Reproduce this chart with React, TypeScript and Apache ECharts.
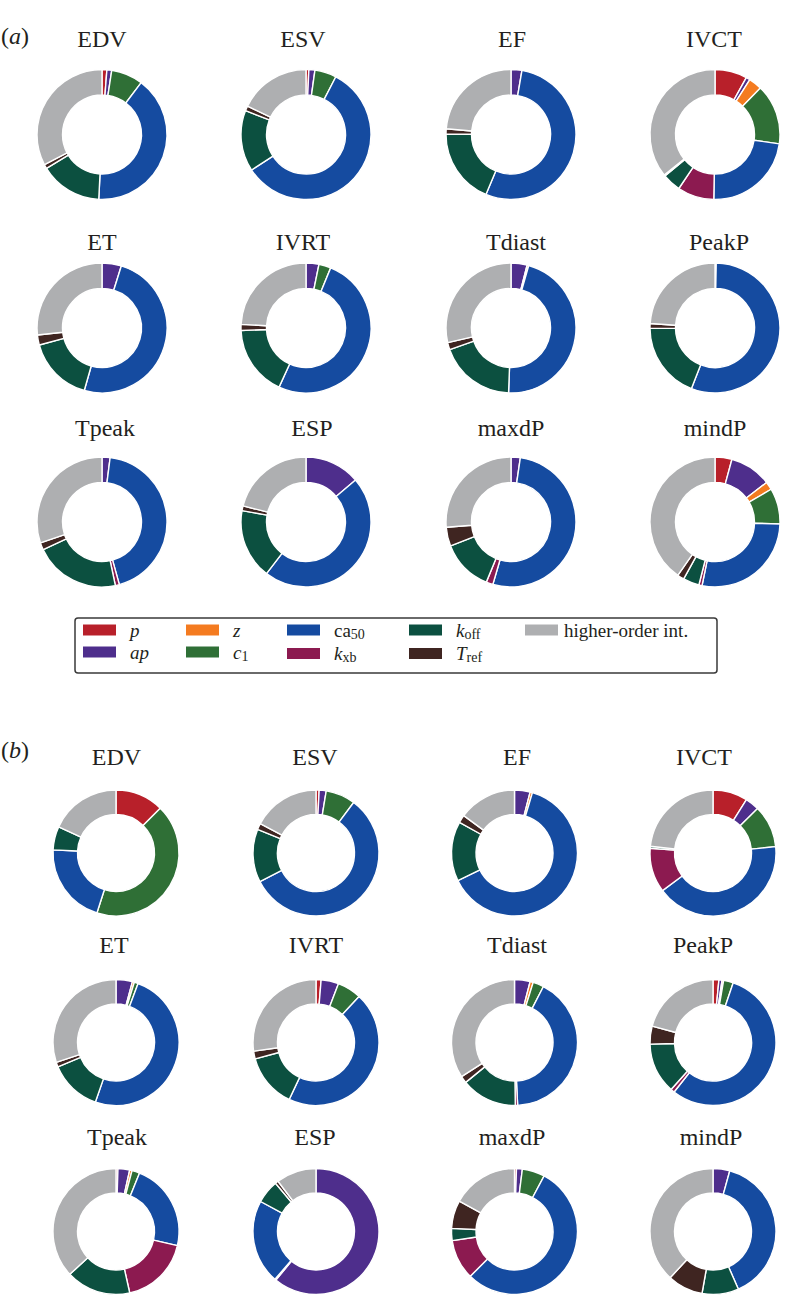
import React, { useEffect, useRef } from 'react';
import * as echarts from 'echarts';

// ---------- data ----------
const PARAMS = ['p', 'ap', 'z', 'c1', 'ca50', 'kxb', 'koff', 'Tref', 'higher-order int.'];
const PARAM_COLORS = ['#B8202A', '#4E2E8C', '#F47B20', '#2F6F36', '#154BA0', '#8C1A50', '#0C5040', '#3F2521', '#AEAFB1'];
const OUTPUTS = ['EDV', 'ESV', 'EF', 'IVCT', 'ET', 'IVRT', 'Tdiast', 'PeakP', 'Tpeak', 'ESP', 'maxdP', 'mindP'];

// values in % ordered as PARAMS: p, ap, z, c1, ca50, kxb, koff, Tref, higher-order
const A_EDV = [1.2, 1.2, 0, 7.9, 40.5, 0, 15.5, 1.0, 32.7];
const A_ESV = [0.7, 1.5, 0, 5.4, 58.2, 0, 15.2, 1.2, 17.8];
const A_EF = [0, 2.7, 0, 0, 53.6, 0, 18.8, 1.3, 23.6];
const A_IVCT = [8.0, 1.0, 3.3, 15.0, 23.0, 9.1, 4.6, 0.3, 35.7];
const A_ET = [0, 4.8, 0, 0, 49.6, 0, 16.4, 2.5, 26.7];
const A_IVRT = [0, 3.2, 0, 3.0, 50.6, 0, 17.6, 1.5, 24.1];
const A_TDIAST = [0, 4.0, 0.4, 0, 46.2, 0, 19.0, 1.8, 28.6];
const A_PEAKP = [0, 0, 0.3, 0, 55.6, 0, 19.0, 1.2, 23.9];
const A_TPEAK = [0, 2.0, 0, 0, 43.7, 1.0, 21.3, 1.8, 30.2];
const A_ESP = [0, 13.8, 0, 0, 46.6, 0, 17.4, 1.2, 21.0];
const A_MAXDP = [0, 2.3, 0, 0, 52.2, 1.7, 12.8, 4.7, 26.3];
const A_MINDP = [4.2, 10.4, 2.0, 8.9, 27.7, 0.8, 4.0, 1.7, 40.3];

const B_EDV = [12.4, 0, 0, 42.5, 20.9, 0, 6.0, 0, 18.2];
const B_ESV = [0.8, 1.8, 0, 7.6, 57.3, 0, 13.6, 1.6, 17.3];
const B_EF = [0, 4.0, 0.6, 0, 63.2, 0, 15.3, 2.0, 14.9];
const B_IVCT = [8.9, 3.6, 0, 10.9, 41.4, 11.4, 0.5, 0, 23.3];
const B_ET = [0, 4.2, 0.5, 1.0, 49.6, 0, 13.4, 1.2, 30.1];
const B_IVRT = [1.3, 4.5, 0, 6.2, 45.0, 0, 13.8, 2.0, 27.2];
const B_TDIAST = [0, 4.0, 0.8, 2.8, 41.6, 0.6, 14.3, 1.8, 34.1];
const B_PEAKP = [1.5, 0.8, 0.4, 2.5, 55.4, 1.0, 13.0, 4.6, 20.8];
const B_TPEAK = [0.5, 3.0, 0.6, 2.0, 22.5, 17.9, 16.6, 0, 36.9];
const B_ESP = [0, 61.0, 0, 0.3, 21.6, 0, 6.0, 0.8, 10.3];
const B_MAXDP = [0.5, 1.5, 0, 5.8, 54.6, 10.3, 3.1, 7.2, 17.0];
const B_MINDP = [0, 4.3, 0, 0, 39.1, 0, 9.4, 9.1, 38.1];

const PANEL_A = [A_EDV, A_ESV, A_EF, A_IVCT, A_ET, A_IVRT, A_TDIAST, A_PEAKP, A_TPEAK, A_ESP, A_MAXDP, A_MINDP];
const PANEL_B = [B_EDV, B_ESV, B_EF, B_IVCT, B_ET, B_IVRT, B_TDIAST, B_PEAKP, B_TPEAK, B_ESP, B_MAXDP, B_MINDP];

// legend columns (row 1 / row 2)
const LEGEND_COLUMNS = [['p', 'ap'], ['z', 'c1'], ['ca50', 'kxb'], ['koff', 'Tref'], ['higher-order int.']];

// ---------- layout ----------
const SERIF = 'Liberation Serif';
const INK = '#231F20';

const A_COL_X = [102, 306, 511, 715];
const A_ROW_Y = [134.5, 328, 522];
const A_RADIUS = [39.5, 65];
const A_TITLE_X = [102, 303, 512, 714, 102, 303, 516, 719, 105, 312, 511, 715];
const A_TITLE_BASE = [46.7, 250, 436];

const B_COL_X = [116, 316, 514.5, 713];
const B_ROW_Y = [853, 1042.5, 1231.5];
const B_RADIUS = [38.5, 63];
const B_TITLE_X = [116.5, 315, 517, 704, 114, 316, 517, 703, 117, 315, 512, 711];
const B_TITLE_BASE = [765, 953, 1145];

const LEGEND_X = [81, 184, 285, 407, 523];

const LEGEND_LABELS: Record<string, string> = {
  p: '{gap| }{it|p}',
  ap: '{gap| }{it|ap}',
  z: '{gap| }{it|z}',
  c1: '{gap| }{it|c}{sub|1}',
  ca50: '{gap| }{rm|ca}{sub|50}',
  kxb: '{gap| }{it|k}{sub|xb}',
  koff: '{gap| }{it|k}{sub|off}',
  Tref: '{gap| }{it|T}{sub|ref}',
  'higher-order int.': '{rm|higher-order int.}',
};

function makePie(values: number[], cx: number, cy: number, radius: number[]) {
  return {
    type: 'pie',
    center: [cx, cy],
    radius,
    startAngle: 90,
    clockwise: true,
    silent: true,
    avoidLabelOverlap: false,
    label: { show: false },
    labelLine: { show: false },
    emphasis: { disabled: true },
    itemStyle: { borderColor: '#ffffff', borderWidth: 1.4 },
    data: values
      .map((v, i) => ({ name: PARAMS[i], value: v, itemStyle: { color: PARAM_COLORS[i] } }))
      .filter((d) => d.value > 0),
  };
}

function titleText(text: string, x: number, baseline: number) {
  return {
    type: 'text', silent: true,
    style: {
      text, x, y: baseline - 8.1, align: 'center', verticalAlign: 'middle',
      fontFamily: SERIF, fontSize: 24, fill: INK,
    },
  };
}

export default function App() {
  const ref = useRef<HTMLDivElement>(null);

  useEffect(() => {
    if (!ref.current) return;
    const chart = echarts.init(ref.current, undefined, { renderer: 'svg' });

    const series: any[] = [];
    const graphics: any[] = [];

    PANEL_A.forEach((vals, k) => {
      const r = Math.floor(k / 4), c = k % 4;
      series.push(makePie(vals, A_COL_X[c], A_ROW_Y[r], A_RADIUS));
      graphics.push(titleText(OUTPUTS[k], A_TITLE_X[k], A_TITLE_BASE[r]));
    });
    PANEL_B.forEach((vals, k) => {
      const r = Math.floor(k / 4), c = k % 4;
      series.push(makePie(vals, B_COL_X[c], B_ROW_Y[r], B_RADIUS));
      graphics.push(titleText(OUTPUTS[k], B_TITLE_X[k], B_TITLE_BASE[r]));
    });

    const panelLabel = (letter: string, y: number) => ({
      type: 'text', silent: true,
      style: {
        text: `{rm|(}{it|${letter}}{rm|)}`, x: 1, y, align: 'left', verticalAlign: 'middle',
        fontFamily: SERIF, fontSize: 24, fill: INK,
        rich: {
          rm: { fontFamily: SERIF, fontSize: 24, fill: INK },
          it: { fontFamily: SERIF, fontSize: 24, fontStyle: 'italic', fill: INK },
        },
      },
    });
    graphics.push(panelLabel('a', 36));
    graphics.push(panelLabel('b', 750));

    graphics.push({
      type: 'rect', silent: true, z: 0,
      shape: { x: 75, y: 618, width: 642, height: 55, r: 3 },
      style: { fill: 'none', stroke: '#3a3a3a', lineWidth: 1.5 },
    });

    const rich = {
      gap: { width: 8, lineHeight: 22, fontSize: 19, fontFamily: SERIF },
      it: { fontFamily: SERIF, fontSize: 19, fontStyle: 'italic', color: INK, lineHeight: 22 },
      rm: { fontFamily: SERIF, fontSize: 19, color: INK, lineHeight: 22 },
      sub: { fontFamily: SERIF, fontSize: 14, color: INK, lineHeight: 10, verticalAlign: 'bottom' },
    };

    const legends = LEGEND_COLUMNS.map((names, i) => ({
      orient: 'vertical',
      left: LEGEND_X[i],
      top: 620.5,
      padding: 0,
      itemWidth: 35,
      itemHeight: 13,
      itemGap: 3,
      icon: 'rect',
      selectedMode: false,
      data: names,
      formatter: (name: string) => LEGEND_LABELS[name] || name,
      textStyle: { fontFamily: SERIF, fontSize: 19, color: INK, rich },
    }));

    chart.setOption({
      animation: false,
      backgroundColor: '#ffffff',
      color: PARAM_COLORS,
      textStyle: { fontFamily: SERIF },
      legend: legends,
      series,
      graphic: graphics,
    });

    return () => chart.dispose();
  }, []);

  return <div ref={ref} style={{ position: 'absolute', left: 0, top: 0, width: 792, height: 1296 }} />;
}
